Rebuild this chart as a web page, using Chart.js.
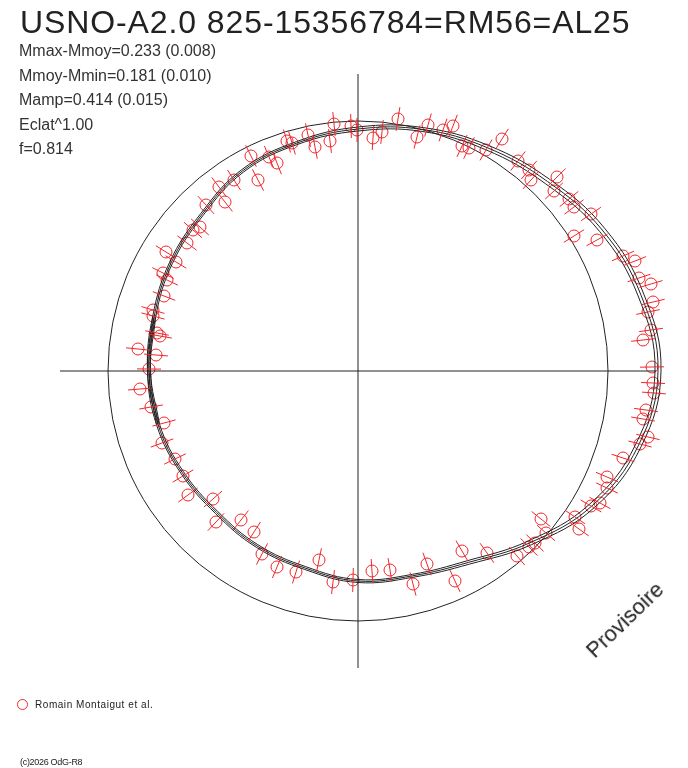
<!DOCTYPE html>
<html>
<head>
<meta charset="utf-8">
<script src="https://cdn.jsdelivr.net/npm/chart.js@4.4.1/dist/chart.umd.min.js"></script>
<style>
    body { margin: 0; background: #fff; }
    #wrap { position: relative; width: 688px; height: 768px; overflow: hidden; font-family: "Liberation Sans", Arial, sans-serif; color: #222; }
    #polarChart { position: absolute; left: 0; top: 0; }
    .txt { position: absolute; white-space: nowrap; }
    #title { left: 20px; top: 6px; font-size: 32px; line-height: 32px; letter-spacing: 0.9px; }
    .stat { left: 19px; font-size: 16px; line-height: 20px; color: #333; }
    #legendMark { position: absolute; left: 17px; top: 699px; width: 11px; height: 11px; border: 1px solid #ee2a2a; border-radius: 50%; box-sizing: border-box; }
    #legendText { left: 35px; top: 699px; font-size: 10px; line-height: 12px; letter-spacing: 0.55px; }
    #footer { left: 20px; top: 757px; font-size: 9px; line-height: 10px; letter-spacing: -0.3px; }
    #stamp { left: 625px; top: 620px; font-size: 22px; line-height: 22px; transform: translate(-50%, -50%) rotate(-44deg); }
</style>
</head>
<body>
<div id="wrap">
    <canvas id="polarChart" width="688" height="768"></canvas>
    <div class="txt" id="title">USNO-A2.0 825-15356784=RM56=AL25</div>
    <div class="txt stat" style="top:41px">Mmax-Mmoy=0.233 (0.008)</div>
    <div class="txt stat" style="top:66px">Mmoy-Mmin=0.181 (0.010)</div>
    <div class="txt stat" style="top:90px">Mamp=0.414 (0.015)</div>
    <div class="txt stat" style="top:115px">Eclat^1.00</div>
    <div class="txt stat" style="top:139px">f=0.814</div>
    <div id="legendMark"></div>
    <div class="txt" id="legendText">Romain Montaigut et al.</div>
    <div class="txt" id="footer">(c)2026 OdG-R8</div>
    <div class="txt" id="stamp">Provisoire</div>
</div>
<script>
// reference circle and axis extents (same units as the points)
const refRadius = 250;
const axisX = [-298, 298];
const axisY = [-297, 297];

// fitted light curve, radius per phase angle (deg), plus half-width of the band
const curveAngles = [180, 195, 210, 225, 240, 255, 270, 285, 300, 315, 330, 345, 0, 15, 30, 45, 60, 75, 90, 105, 120, 135, 150, 165];
const curveRadius = [209, 207, 203, 200, 202, 204, 210, 212, 221, 243, 270, 290, 300, 293, 282, 268, 258, 250, 242, 236, 231, 221, 216, 211];
const curveSpread = [1.5, 1.5, 1.5, 1.5, 1.5, 1.5, 1.5, 1.5, 2, 2.5, 3, 3, 3, 3, 3, 3, 2.5, 2, 2, 1.5, 1.5, 1.5, 1.5, 1.5];

// observations (Romain Montaigut et al.)
const obsX = [-1, -7, -24, -28, -43, -50, -66, -71, -81, -89, -107, -100, -124, -133, -139, -152, -158, -165, -171, -182,
    -192, -195, -191, -194, -205, -205, -201, -198, -220, -202, -209, -218, -207, -194, -196, -183, -175, -170, -145, -142,
    -117, -104, -96, -81, -62, -39, -25, -5, 14, 32, 55, 69, 97, 104, 129, 159, 171, 177, 183, 188,
    217, 221, 233, 242, 249, 249, 265, 282, 290, 285, 288, 296, 295, 294, 285, 293, 290, 295, 293, 281,
    277, 265, 239, 216, 233, 216, 211, 196, 199, 173, 171, 160, 144, 128, 111, 104, 95, 85, 70, 59, 40, 24, 15];
const obsY = [241, 245, 247, 230, 224, 236, 228, 230, 208, 214, 215, 191, 191, 169, 184, 166, 144, 141, 128, 109,
    119, 98, 91, 75, 61, 55, 38, 35, 22, 16, 2, -18, -36, -52, -72, -88, -105, -124, -128, -151,
    -149, -161, -183, -196, -201, -189, -211, -209, -200, -199, -213, -193, -210, -180, -182, -185, -176, -172, -148, -162,
    -146, -158, -135, -132, -117, -106, -87, -73, -66, -48, -39, -22, -12, 4, 31, 41, 59, 69, 87, 93,
    110, 115, 131, 135, 157, 164, 172, 180, 194, 191, 201, 210, 232, 221, 223, 225, 245, 241, 246, 234, 252, 239, 233];
const obsErr = 12;

const pointRed = "#f0262b";
const inkColor = "#222222";

function curveLine(side) {
    const pts = curveAngles.map((angle, i) => {
        const r = curveRadius[i] + side * curveSpread[i];
        const t = angle * Math.PI / 180;
        return { x: r * Math.cos(t), y: r * Math.sin(t) };
    });
    // wrap round so the join stays smooth
    const n = pts.length;
    return [pts[n - 1], ...pts, pts[0], pts[1]];
}

const refCirclePlugin = {
    id: "refCircle",
    beforeDatasetsDraw(chart) {
        const { ctx, scales } = chart;
        const cx = scales.x.getPixelForValue(0);
        const cy = scales.y.getPixelForValue(0);
        const rr = scales.x.getPixelForValue(refRadius) - cx;
        ctx.save();
        ctx.strokeStyle = inkColor;
        ctx.lineWidth = 1;
        ctx.beginPath();
        ctx.arc(cx, cy, rr, 0, Math.PI * 2);
        ctx.stroke();
        ctx.restore();
    }
};

const errorBarPlugin = {
    id: "radialErrors",
    afterDatasetsDraw(chart) {
        const { ctx, scales } = chart;
        ctx.save();
        ctx.strokeStyle = pointRed;
        ctx.lineWidth = 1;
        obsX.forEach((x, i) => {
            const y = obsY[i];
            const r = Math.hypot(x, y);
            const ux = x / r;
            const uy = y / r;
            ctx.beginPath();
            ctx.moveTo(scales.x.getPixelForValue(x - obsErr * ux), scales.y.getPixelForValue(y - obsErr * uy));
            ctx.lineTo(scales.x.getPixelForValue(x + obsErr * ux), scales.y.getPixelForValue(y + obsErr * uy));
            ctx.stroke();
        });
        ctx.restore();
    }
};

const lineStyle = {
    showLine: true,
    borderColor: inkColor,
    borderWidth: 1,
    pointRadius: 0,
    fill: false
};

new Chart(document.getElementById("polarChart"), {
    type: "scatter",
    data: {
        datasets: [
            { ...lineStyle, data: [{ x: axisX[0], y: 0 }, { x: axisX[1], y: 0 }] },
            { ...lineStyle, data: [{ x: 0, y: axisY[0] }, { x: 0, y: axisY[1] }] },
            { ...lineStyle, data: curveLine(-1), tension: 0.4 },
            { ...lineStyle, data: curveLine(0), tension: 0.4 },
            { ...lineStyle, data: curveLine(1), tension: 0.4 },
            {
                label: "Romain Montaigut et al.",
                data: obsX.map((x, i) => ({ x, y: obsY[i] })),
                showLine: false,
                pointStyle: "circle",
                pointRadius: 6,
                pointBorderWidth: 1,
                pointBorderColor: pointRed,
                pointBackgroundColor: "rgba(0,0,0,0)"
            }
        ]
    },
    options: {
        responsive: false,
        animation: false,
        events: [],
        layout: { padding: 0, autoPadding: false },
        plugins: {
            legend: { display: false },
            tooltip: { enabled: false }
        },
        scales: {
            x: { type: "linear", min: -358, max: 330, display: false },
            y: { type: "linear", min: -397, max: 371, display: false }
        }
    },
    plugins: [refCirclePlugin, errorBarPlugin]
});
</script>
</body>
</html>
